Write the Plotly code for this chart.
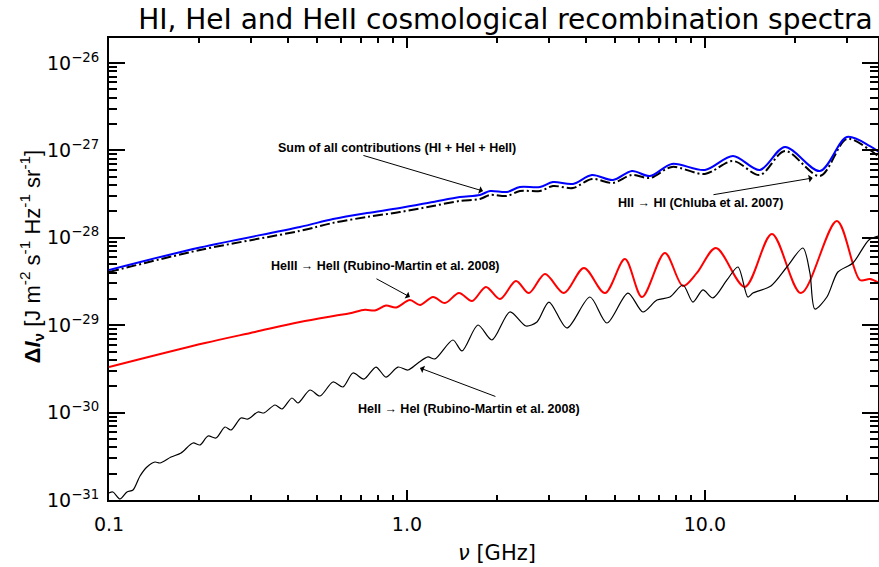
import numpy as np
import plotly.graph_objects as go

# ---------------- data ----------------
# Sum of all contributions (HI + HeI + HeII)
nu_sum = [0.1, 0.202, 0.4375, 0.565, 0.734, 0.947, 1.223, 1.506, 1.758, 1.90, 2.166, 2.394,
          2.795, 3.09, 3.606, 4.177, 4.912, 5.69, 6.54, 7.75, 10.0, 12.42, 15.29, 18.56,
          24.32, 29.95, 35.8, 38.4]
I_sum = [4.28e-29, 7.75e-29, 1.33e-28, 1.64e-28, 1.92e-28, 2.19e-28, 2.57e-28, 2.93e-28,
         3.09e-28, 3.43e-28, 3.34e-28, 3.81e-28, 3.81e-28, 4.35e-28, 4.13e-28, 5.23e-28,
         4.58e-28, 5.81e-28, 5.09e-28, 6.99e-28, 5.97e-28, 8.63e-28, 5.97e-28, 1.094e-27,
         5.81e-28, 1.42e-27, 1.12e-27, 9.59e-28]

# HII -> HI (Chluba et al. 2007)
nu_hi = [0.1, 0.202, 0.4375, 0.565, 0.734, 0.947, 1.223, 1.506, 1.758, 1.90, 2.166, 2.394,
         2.795, 3.09, 3.606, 4.177, 4.912, 5.69, 6.54, 7.75, 10.0, 12.42, 15.29, 18.56,
         24.32, 29.95, 35.8, 38.4]
I_hi = [4.06e-29, 7.25e-29, 1.20e-28, 1.48e-28, 1.73e-28, 1.97e-28, 2.31e-28, 2.64e-28,
        2.78e-28, 3.09e-28, 3.01e-28, 3.43e-28, 3.43e-28, 3.91e-28, 3.71e-28, 4.71e-28,
        4.24e-28, 5.23e-28, 4.83e-28, 6.46e-28, 5.37e-28, 7.56e-28, 5.23e-28, 9.84e-28,
        5.09e-28, 1.35e-27, 1.01e-27, 8.40e-28]

# HeIII -> HeII (Rubino-Martin et al. 2008)
nu_he3 = [0.1, 0.210, 0.309, 0.4375, 0.573, 0.644, 0.723, 0.781, 0.850, 0.919, 1.023, 1.106,
          1.223, 1.341, 1.495, 1.653, 1.841, 2.052, 2.322, 2.567, 2.905, 3.364, 3.926, 4.618,
          5.39, 6.15, 7.34, 8.44, 9.40, 10.89, 13.62, 16.78, 21.0, 27.73, 33.13, 35.8, 38.4]
I_he3 = [3.32e-30, 6.25e-30, 8.36e-30, 1.088e-29, 1.28e-29, 1.37e-29, 1.50e-29, 1.474e-29,
         1.679e-29, 1.594e-29, 1.94e-29, 1.70e-29, 2.10e-29, 1.79e-29, 2.33e-29, 1.89e-29,
         2.74e-29, 1.99e-29, 3.20e-29, 2.33e-29, 3.85e-29, 2.33e-29, 4.51e-29, 2.33e-29,
         5.72e-29, 2.10e-29, 6.70e-29, 2.81e-29, 3.96e-29, 7.64e-29, 2.74e-29, 1.105e-28,
         2.33e-29, 1.556e-28, 3.29e-29, 3.38e-29, 3.04e-29]

# HeII -> HeI (Rubino-Martin et al. 2008)
nu_he2 = [0.1, 0.1031, 0.1089, 0.1149, 0.1204, 0.1271, 0.1341, 0.1427, 0.1483, 0.1615,
          0.1745, 0.1914, 0.2020, 0.2149, 0.2286, 0.2451, 0.2567, 0.2773, 0.2927, 0.3162,
          0.3312, 0.3606, 0.3806, 0.4112, 0.4308, 0.4727, 0.5106, 0.5646, 0.6099, 0.6589,
          0.7173, 0.7872, 0.850, 0.9328, 1.008, 1.089, 1.176, 1.2415, 1.4265, 1.530, 1.731,
          1.928, 2.216, 2.507, 2.731, 2.996, 3.443, 4.112, 4.690, 5.516, 6.194, 6.902, 7.632,
          8.44, 9.115, 9.847, 10.64, 11.86, 12.91, 13.94, 14.49, 16.65, 18.84, 21.33, 22.51,
          23.39, 25.67, 27.94, 31.38, 35.51, 38.4]
I_he2 = [1.202e-31, 1.234e-31, 1.027e-31, 1.234e-31, 1.301e-31, 1.883e-31, 2.387e-31, 2.72e-31,
         2.65e-31, 3.10e-31, 3.45e-31, 4.49e-31, 4.26e-31, 5.40e-31, 5.12e-31, 6.84e-31,
         6.32e-31, 8.67e-31, 8.45e-31, 1.016e-30, 9.90e-31, 1.222e-30, 1.10e-30, 1.469e-30,
         1.288e-30, 1.814e-30, 1.549e-30, 2.24e-30, 1.963e-30, 2.84e-30, 2.42e-30, 3.32e-30,
         2.55e-30, 3.32e-30, 3.07e-30, 3.69e-30, 4.33e-30, 4.11e-30, 6.77e-30, 5.07e-30,
         1.005e-29, 6.77e-30, 1.416e-29, 9.79e-30, 1.088e-29, 1.84e-29, 9.29e-30, 2.10e-29,
         1.059e-29, 2.33e-29, 1.416e-29, 1.94e-29, 2.10e-29, 2.88e-29, 1.84e-29, 2.53e-29,
         2.05e-29, 3.29e-29, 4.63e-29, 2.10e-29, 2.33e-29, 2.81e-29, 4.63e-29, 7.64e-29,
         3.96e-29, 1.53e-29, 2.10e-29, 4.06e-29, 5.15e-29, 9.44e-29, 1.049e-28]

x_tickvals = [0.1, 1.0, 10.0]
x_ticktext = ["0.1", "1.0", "10.0"]
y_tickvals = [1e-31, 1e-30, 1e-29, 1e-28, 1e-27, 1e-26]
y_ticktext = ["10<sup>\u221231</sup>", "10<sup>\u221230</sup>", "10<sup>\u221229</sup>",
              "10<sup>\u221228</sup>", "10<sup>\u221227</sup>", "10<sup>\u221226</sup>"]

x_range = [0.1, 38.1]
y_range = [1e-31, 1.93e-26]

# ---------------- figure ----------------
fig = go.Figure()
fig.add_trace(go.Scatter(x=nu_hi, y=I_hi, mode="lines",
                         line=dict(color="black", width=2, dash="10px,3px,2px,3px",
                                   shape="spline", smoothing=0.9)))
fig.add_trace(go.Scatter(x=nu_sum, y=I_sum, mode="lines",
                         line=dict(color="#0000ff", width=2, shape="spline", smoothing=0.9)))
fig.add_trace(go.Scatter(x=nu_he3, y=I_he3, mode="lines",
                         line=dict(color="#ff0000", width=2, shape="spline", smoothing=0.9)))
fig.add_trace(go.Scatter(x=nu_he2, y=I_he2, mode="lines",
                         line=dict(color="black", width=1.2, shape="spline", smoothing=0.8)))

tick_font = dict(family="DejaVu Sans", size=19, color="black")

fig.update_xaxes(type="log", range=[np.log10(x_range[0]), np.log10(x_range[1])],
                 tickvals=x_tickvals, ticktext=x_ticktext, tickfont=tick_font,
                 ticks="inside", ticklen=10, tickwidth=1.5, tickcolor="black",
                 ticklabelstandoff=6, automargin=False,
                 minor=dict(ticks="inside", ticklen=5, tickwidth=1.5, tickcolor="black",
                            dtick="D1", showgrid=False),
                 showline=True, linecolor="black", linewidth=2, mirror="ticks",
                 showgrid=False, zeroline=False)
fig.update_yaxes(type="log", range=[np.log10(y_range[0]), np.log10(y_range[1])],
                 tickvals=y_tickvals, ticktext=y_ticktext, tickfont=tick_font,
                 ticks="inside", ticklen=16, tickwidth=1.5, tickcolor="black",
                 ticklabelstandoff=4, automargin=False,
                 minor=dict(ticks="inside", ticklen=8, tickwidth=1.5, tickcolor="black",
                            dtick="D1", showgrid=False),
                 showline=True, linecolor="black", linewidth=2, mirror="ticks",
                 showgrid=False, zeroline=False)

ann_font = dict(family="Liberation Sans", size=12.5, color="black")
L = np.log10

texts = [
    ("Sum of all contributions (HI + HeI + HeII)", 0.926, 10 ** -26.972),
    ("HII \u2192 HI (Chluba et al. 2007)", 9.70, 10 ** -27.602),
    ("HeIII \u2192 HeII (Rubino-Martin et al. 2008)", 0.844, 10 ** -28.323),
    ("HeII \u2192 HeI (Rubino-Martin et al. 2008)", 1.614, 10 ** -29.959),
]
arrows = [
    ((1.80, 10 ** -27.465), (0.706, 10 ** -27.053)),
    ((23.0, 10 ** -27.316), (10.56, 10 ** -27.510)),
    ((1.023, 10 ** -28.677), (0.781, 10 ** -28.46)),
    ((1.106, 10 ** -29.49), (2.004, 10 ** -29.822)),
]
annotations = []
for t, xv, yv in texts:
    annotations.append(dict(text="<b>" + t + "</b>", x=L(xv), y=L(yv), xref="x", yref="y",
                            showarrow=False, font=ann_font, xanchor="center", yanchor="middle"))
for (hx, hy), (tx, ty) in arrows:
    annotations.append(dict(text="", x=L(hx), y=L(hy), ax=L(tx), ay=L(ty), xref="x", yref="y",
                            axref="x", ayref="y", showarrow=True, arrowhead=1, arrowsize=1.3,
                            arrowwidth=1, arrowcolor="black", standoff=0, startstandoff=0))

# axis titles
annotations.append(dict(text="<i>\u03bd</i> [GHz]", xref="paper", yref="paper",
                        x=0.5046, y=-0.1147, xanchor="center", yanchor="middle",
                        showarrow=False, font=dict(family="DejaVu Sans", size=21, color="black")))
annotations.append(dict(text="<b>\u0394<i>I</i><sub>\u03bd</sub></b> [J m<sup>-2</sup> s<sup>-1</sup> Hz<sup>-1</sup> sr<sup>-1</sup>]",
                        xref="paper", yref="paper", x=-0.101, y=0.528, textangle=-90,
                        xanchor="center", yanchor="middle", showarrow=False,
                        font=dict(family="Liberation Sans", size=22, color="black")))

fig.update_layout(
    width=879, height=567,
    margin=dict(l=109, r=1, t=38, b=67),
    paper_bgcolor="white", plot_bgcolor="white",
    showlegend=False,
    title=dict(text="HI, HeI and HeII cosmological recombination spectra",
               font=dict(family="DejaVu Sans", size=28, color="black"),
               x=0.575, xanchor="center", y=0.967, yanchor="middle", yref="container"),
    annotations=annotations,
)

fig.write_html("out.html", config={"displayModeBar": False},
               post_script="document.body.style.margin='0';")
